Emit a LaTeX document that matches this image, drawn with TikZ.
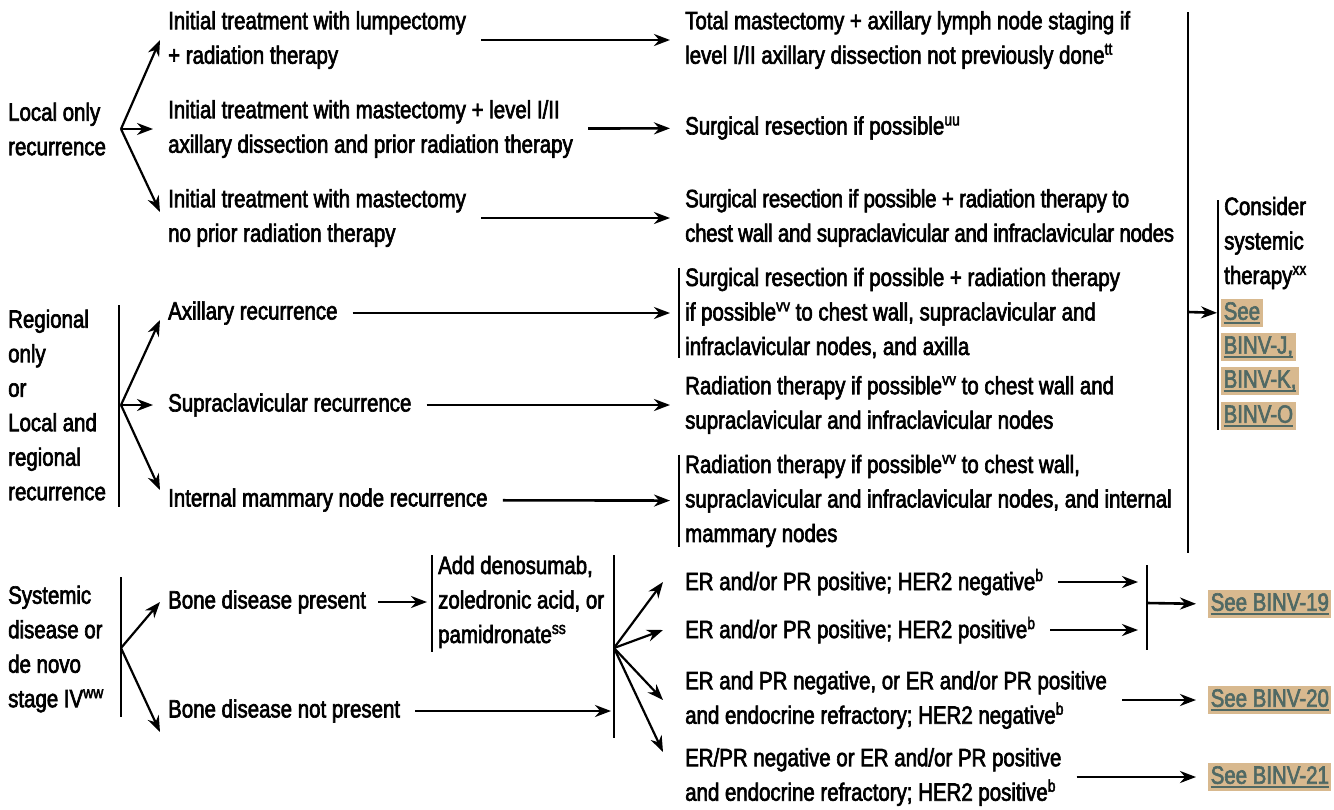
\documentclass[tikz,border=0pt]{standalone}
\usepackage{fontspec}
\setmainfont{Liberation Sans}[FakeStretch=0.818,FakeBold=2.5]
\usetikzlibrary{arrows.meta}
\definecolor{boxtan}{RGB}{203,162,106}
\definecolor{linkgray}{RGB}{80,105,100}
\newsavebox{\linkbox}
\newcommand{\seelink}[1]{\sbox{\linkbox}{#1}\rlap{\rule[-4pt]{\wd\linkbox}{1.8pt}}\usebox{\linkbox}}
\newcommand{\sups}[1]{\raisebox{9pt}{\fontsize{17}{17}\selectfont #1}}

\begin{document}
\begin{tikzpicture}[x=1pt,y=-1pt,>={Stealth[length=16pt,width=12pt]},
  every node/.style={inner sep=0pt,anchor=west,align=left,font=\fontsize{25}{34.5}\selectfont},
  flow/.style={->,line width=2.6pt,shorten <=15pt,shorten >=15pt},
  branch/.style={->,line width=2.2pt},
  bar/.style={line width=1.6pt},
  link/.style={fill=boxtan,fill opacity=0.75,text opacity=1,text=linkgray,inner xsep=2.5pt,inner ysep=3pt}]
\useasboundingbox (0,0) rectangle (1334,809);
% local only recurrence
\node (local) at (8,129) {Local only\\recurrence};
\node (loclump) at (168,40) {Initial treatment with lumpectomy\\+ radiation therapy};
\node (locmastrt) at (168,129) {Initial treatment with mastectomy + level I/II\\axillary dissection and prior radiation therapy};
\node (locmastnort) at (168,218) {Initial treatment with mastectomy\\no prior radiation therapy};
\node (outlump) at (685,40) {Total mastectomy + axillary lymph node staging if\\level I/II axillary dissection not previously done\sups{tt}};
\node (outmastrt) at (685,128) {Surgical resection if possible\sups{uu}};
\node[font=\fontsize{25}{34.5}\selectfont\addfontfeature{LetterSpace=-1.2}] (outmastnort) at (685,218) {Surgical resection if possible + radiation therapy to\\chest wall and supraclavicular and infraclavicular nodes};
\coordinate (locsplit) at (121,129);
\draw[branch] (locsplit) -- ([xshift=-8pt]loclump.west);
\draw[branch] (locsplit) -- ([xshift=-15pt]locmastrt.west);
\draw[branch] (locsplit) -- ([xshift=-8pt,yshift=6pt]locmastnort.west);
\path[flow] (loclump) edge (outlump);
\path[flow] (locmastrt) edge (outmastrt);
\path[flow] (locmastnort) edge (outmastnort);
% regional recurrence
\node (regional) at (8,405) {Regional\\only\\or\\Local and\\regional\\recurrence};
\node (axill) at (168,313) {Axillary recurrence};
\node (supra) at (168,405) {Supraclavicular recurrence};
\node (intmam) at (168,500) {Internal mammary node recurrence};
\node (outaxill) at (685,313) {Surgical resection if possible + radiation therapy\\if possible\sups{vv} to chest wall, supraclavicular and\\infraclavicular nodes, and axilla};
\node (outsupra) at (685,405) {Radiation therapy if possible\sups{vv} to chest wall and\\supraclavicular and infraclavicular nodes};
\node (outintmam) at (685,501) {Radiation therapy if possible\sups{vv} to chest wall,\\supraclavicular and infraclavicular nodes, and internal\\mammary nodes};
\draw[bar] (119,305) -- (119,507);
\coordinate (regsplit) at (121,405);
\draw[branch] (regsplit) -- ([xshift=-8pt,yshift=-7pt]axill.west);
\draw[branch] (regsplit) -- ([xshift=-15pt]supra.west);
\draw[branch] (regsplit) -- ([xshift=-8pt,yshift=10pt]intmam.west);
\draw[bar] ([xshift=-6pt]outaxill.north west) -- ([xshift=-6pt]outaxill.south west);
\draw[bar] ([xshift=-6pt]outintmam.north west) -- ([xshift=-6pt]outintmam.south west);
\path[flow] (axill) edge (outaxill);
\path[flow] (supra) edge (outsupra);
\path[flow] (intmam) edge (outintmam);
% consider systemic therapy
\node (consider) at (1224,243) {Consider\\systemic\\therapy\sups{xx}};
\node[link] (seesee) at (1221,313) {\seelink{See}};
\node[link] (seej) at (1221,347) {\seelink{BINV-J,}};
\node[link] (seek) at (1221,381) {\seelink{BINV-K,}};
\node[link] (seeo) at (1221,416) {\seelink{BINV-O}};
\draw[bar] (1188,12) -- (1188,553);
\draw[bar] (1218,200) -- (1218,430);
\coordinate (bigbar) at (1188,312);
\draw[->,line width=2.6pt,shorten >=4pt] (bigbar) -- (seesee.west);
% systemic disease
\node (systemic) at (8,649) {Systemic\\disease or\\de novo\\stage IV\sups{ww}};
\node (bonepres) at (168,602) {Bone disease present};
\node (bonenot) at (168,711) {Bone disease not present};
\node (addbone) at (438,602) {Add denosumab,\\zoledronic acid, or\\pamidronate\sups{ss}};
\draw[bar] (121,577) -- (121,717);
\coordinate (syssplit) at (121,648);
\draw[branch] (syssplit) -- ([xshift=-8pt]bonepres.west);
\draw[branch] (syssplit) -- ([xshift=-8pt,yshift=-21pt]bonenot.west);
\draw[bar] (432,555) -- (432,652);
\path[flow,shorten >=11pt,shorten <=12pt] (bonepres) edge (addbone);
\draw[bar] (614,555) -- (614,738);
\coordinate (bonesplit) at (614,648);
\draw[flow,shorten >=3pt] (bonenot.east) -- (bonenot.east -| bonesplit);
\node (erposneg) at (685,582) {ER and/or PR positive; HER2 negative\sups{b}};
\node (erpospos) at (685,630) {ER and/or PR positive; HER2 positive\sups{b}};
\node (ernegneg) at (685,700) {ER and PR negative, or ER and/or PR positive\\and endocrine refractory; HER2 negative\sups{b}};
\node (ernegpos) at (685,777) {ER/PR negative or ER and/or PR positive\\and endocrine refractory; HER2 positive\sups{b}};
\foreach \er/\dy in {erposneg/0,erpospos/0,ernegneg/0,ernegpos/25}
  \draw[branch] (bonesplit) -- ([xshift=-22pt,yshift=\dy pt]\er.west);
\node[link] (see19) at (1208,604) {\seelink{See BINV-19}};
\node[link] (see20) at (1208,700) {\seelink{See BINV-20}};
\node[link] (see21) at (1208,777) {\seelink{See BINV-21}};
\draw[bar] (1147,565) -- (1147,650);
\coordinate (herbar) at (1147,603);
\draw[flow,shorten >=9pt] (erposneg.east) -- (erposneg.east -| herbar);
\draw[flow,shorten >=9pt] (erpospos.east) -- (erpospos.east -| herbar);
\draw[->,line width=2.6pt,shorten >=12pt] (herbar) -- (see19.west);
\path[flow,shorten >=12pt] (ernegneg) edge (see20);
\path[flow,shorten >=12pt] (ernegpos) edge (see21);
\end{tikzpicture}
\end{document}
